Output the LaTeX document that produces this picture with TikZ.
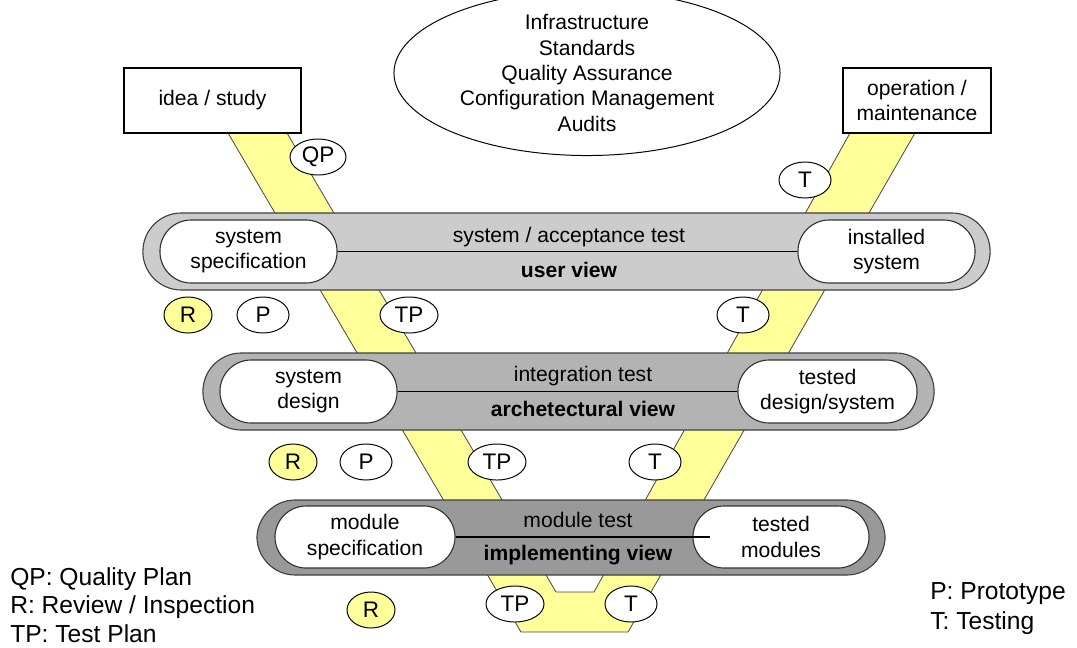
\documentclass[tikz,border=0pt]{standalone}
\usepackage{fontspec}
\setmainfont{Liberation Sans}
\usetikzlibrary{shapes.geometric}

\definecolor{bandyellow}{HTML}{FFFF99}
\definecolor{grayA}{HTML}{CCCCCC}
\definecolor{grayB}{HTML}{B3B3B3}
\definecolor{grayC}{HTML}{999999}

\tikzset{
  txt/.style={font=\fontsize{15}{18}\selectfont, align=center},
  viewtxt/.style={font=\fontsize{15}{18}\selectfont\bfseries, align=center},
  capsule/.style={draw=black!75, line width=0.8pt, minimum height=1.925cm,
    rounded corners=0.96cm, inner sep=0pt},
  inner/.style={txt, draw=black!80, fill=white, line width=0.8pt,
    minimum height=1.575cm, rounded corners=0.78cm, inner sep=0pt},
  phase/.style={txt, draw, line width=0.9pt, minimum height=1.625cm, inner sep=0pt},
  tag/.style={ellipse, draw, fill=white, line width=0.7pt, inner sep=0pt,
    minimum width=1.3cm, minimum height=0.9cm, font=\fontsize{16}{18}\selectfont},
  tagR/.style={tag, fill=bandyellow},
  legend/.style={align=left, inner sep=0pt, anchor=west},
}

\begin{document}
\begin{tikzpicture}[x=0.025cm, y=-0.025cm]
  \useasboundingbox (0,0) rectangle (1077,647);

  % the V
  \draw[fill=bandyellow, draw=black!70, line width=0.6pt]
    (228,133) -- (521,632) -- (628,632) -- (915,133) -- (850,133)
    -- (594,592) -- (556,592) -- (287,133) -- cycle;

  % phases at the ends
  \node[phase, minimum width=4.425cm] (idea) at (212.5,100.5) {idea / study};
  \node[phase, minimum width=3.7cm] (oper) at (917,100.5) {operation /\\maintenance};

  \node[ellipse, draw, line width=0.7pt, minimum width=9.65cm, minimum height=3.3cm,
        inner sep=0pt, txt] (qa) at (587,73)
    {Infrastructure\\Standards\\Quality Assurance\\Configuration Management\\Audits};

  % user view
  \node[capsule, fill=grayA, minimum width=21.175cm] (user) at (566.5,251.5) {};
  \node[inner, minimum width=4.425cm] (sspec) at (248.5,251.5) {system\\specification};
  \node[inner, minimum width=4.425cm] (isys) at (886.5,251.5) {installed\\system};
  \draw[line width=0.9pt] (sspec.east) -- (isys.west);
  \node[txt] (uat) at (569,237) {system / acceptance test};
  \node[viewtxt] (uview) at (569,270) {user view};

  % architectural view
  \node[capsule, fill=grayB, minimum width=18.275cm] (arch) at (568.5,391.5) {};
  \node[inner, minimum width=4.425cm] (sdes) at (308.5,391.5) {system\\design};
  \node[inner, minimum width=4.475cm] (tdes) at (827.5,391.5) {tested\\design/system};
  \draw[line width=0.9pt] (sdes.east) -- (tdes.west);
  \node[txt] (itest) at (583,376) {integration test};
  \node[viewtxt] (aview) at (583,409) {archetectural view};

  % implementing view
  \node[capsule, fill=grayC, minimum width=15.7cm, minimum height=1.875cm] (impl) at (571,537.5) {};
  \node[inner, minimum width=4.5cm, minimum height=1.55cm] (mspec) at (365,537) {module\\specification};
  \node[inner, minimum width=4.4cm, minimum height=1.55cm] (tmod) at (781,537) {tested\\modules};
  \draw[line width=0.9pt] (mspec.east) -- ([xshift=0.43cm]tmod.west);
  \node[txt] (mtest) at (578,520) {module test};
  \node[viewtxt] (iview) at (578,555) {implementing view};

  % tags
  \node[tag, minimum width=1.4cm] (qp) at (318,157) {QP};
  \node[tag] (t0) at (805,180) {T};
  \node[tagR, minimum width=1.2cm] (r1) at (188,315) {R};
  \node[tag] (p1) at (263,315) {P};
  \node[tag, minimum width=1.45cm] (tp1) at (409,315) {TP};
  \node[tag] (t1) at (743,315) {T};
  \node[tagR, minimum width=1.2cm] (r2) at (293,462) {R};
  \node[tag] (p2) at (366,462) {P};
  \node[tag, minimum width=1.45cm] (tp2) at (497,462) {TP};
  \node[tag] (t2) at (655,462) {T};
  \node[tagR, minimum width=1.2cm] (r3) at (371,610) {R};
  \node[tag, minimum width=1.45cm] (tp3) at (515,604) {TP};
  \node[tag] (t3) at (631,604) {T};

  % legend
  \node[legend, font=\fontsize{17.5}{20.3}\selectfont] (keyL) at (10,605)
    {QP: Quality Plan\\R: Review / Inspection\\TP: Test Plan};
  \node[legend, font=\fontsize{17.5}{21.3}\selectfont] (keyR) at (930,609)
    {P: Prototype\\T: Testing};
\end{tikzpicture}
\end{document}
